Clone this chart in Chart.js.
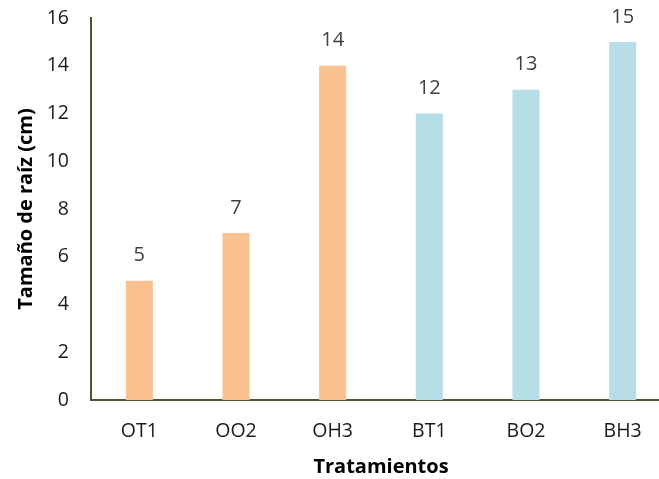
<!DOCTYPE html>
<html>
<head>
<meta charset="utf-8">
<script src="https://cdn.jsdelivr.net/npm/chart.js@4.4.1/dist/chart.umd.min.js"></script>
<style>
  html, body { margin: 0; padding: 0; background: #ffffff; overflow: hidden; }
  #wrap { width: 671px; height: 479px; }
</style>
</head>
<body>
<div id="wrap"><canvas id="c" width="671" height="479"></canvas></div>
<script>
// Root length per treatment
const categories = ['OT1', 'OO2', 'OH3', 'BT1', 'BO2', 'BH3'];
const rootLength = [5, 7, 14, 12, 13, 15];
const barColors = ['#F9C290', '#F9C290', '#F9C290', '#B7DDE7', '#B7DDE7', '#B7DDE7'];
const yTicks = [0, 2, 4, 6, 8, 10, 12, 14, 16];

const FONT = '"Open Sans", sans-serif';
const AXIS_COLOR = '#575033';

// Value labels drawn above each bar
const valueLabels = {
  id: 'valueLabels',
  afterDatasetsDraw(chart) {
    const ctx = chart.ctx;
    const meta = chart.getDatasetMeta(0);
    ctx.save();
    ctx.font = '20px ' + FONT;
    ctx.fillStyle = '#404040';
    ctx.textAlign = 'center';
    ctx.textBaseline = 'middle';
    meta.data.forEach((bar, i) => {
      ctx.fillText(String(chart.data.datasets[0].data[i]), bar.x, bar.y - 25);
    });
    ctx.restore();
  }
};

new Chart(document.getElementById('c'), {
  type: 'bar',
  data: {
    labels: categories,
    datasets: [{
      data: rootLength,
      backgroundColor: barColors,
      borderWidth: 0,
      categoryPercentage: 1,
      barPercentage: 0.28
    }]
  },
  options: {
    responsive: false,
    animation: false,
    layout: { padding: { top: 18, right: 0, left: 0, bottom: 0 } },
    plugins: { legend: { display: false }, tooltip: { enabled: false } },
    scales: {
      x: {
        grid: { display: false, drawTicks: false },
        border: { display: true, color: AXIS_COLOR, width: 2 },
        ticks: { color: '#1a1a1a', font: { family: FONT, size: 19.5 }, padding: 20, maxRotation: 0 },
        title: {
          display: true, text: 'Tratamientos', color: '#000000',
          font: { family: FONT, size: 20, weight: 'bold' },
          padding: { top: 8, bottom: 0 }
        },
        afterFit(scale) { scale.height = 79; scale.paddingLeft = 0; scale.paddingRight = 0; }
      },
      y: {
        min: 0, max: 16,
        afterBuildTicks(scale) { scale.ticks = yTicks.map(v => ({ value: v })); },
        grid: { display: false, drawTicks: false },
        border: { display: true, color: AXIS_COLOR, width: 2 },
        ticks: { color: '#1a1a1a', font: { family: FONT, size: 19.5 }, padding: 22 },
        title: {
          display: true, text: 'Tamaño de raíz (cm)', color: '#000000',
          font: { family: FONT, size: 20, weight: 'bold' },
          padding: { top: 14, bottom: 0 }
        },
        afterFit(scale) { scale.width = 91; scale.paddingTop = 0; scale.paddingBottom = 0; }
      }
    }
  },
  plugins: [valueLabels]
});
</script>
</body>
</html>
